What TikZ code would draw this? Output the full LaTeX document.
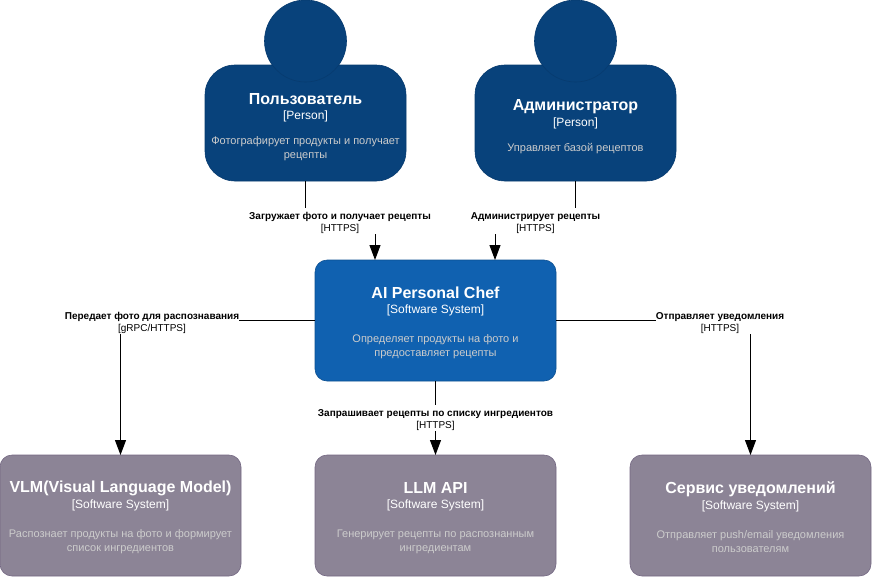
\documentclass[tikz,border=0pt]{standalone}
\usepackage{fontspec}
\usepackage{xcolor}
\usepackage{tikz}
\usetikzlibrary{arrows.meta,calc}
\setmainfont{Liberation Sans}
\definecolor{personfill}{HTML}{08427B}
\definecolor{personline}{HTML}{073B6F}
\definecolor{chieffill}{HTML}{1061B0}
\definecolor{chiefline}{HTML}{0D5091}
\definecolor{extfill}{HTML}{8C8496}
\definecolor{extline}{HTML}{736782}
\definecolor{desctext}{HTML}{CCCCCC}
\newcommand{\boxtext}[2]{\rule{0pt}{16pt}{\fontsize{16}{19}\selectfont\bfseries #1}\\[3pt]{\fontsize{12}{14}\selectfont [#2]}\\[17pt]}
\newcommand{\persontext}[2]{\rule{0pt}{19pt}{\fontsize{16}{19}\selectfont\bfseries #1}\\[3pt]{\fontsize{12}{14}\selectfont [#2]}\\[13pt]}
\newcommand{\descline}[1]{{\fontsize{11}{14.5}\selectfont\color{desctext}#1}}
\newcommand{\reltext}[2]{\rule{0pt}{11.5pt}\textbf{#1}\\{}[#2]}
\tikzset{
  boxbase/.style={draw,align=center,text=white,inner sep=0pt,outer sep=0pt,minimum width=241pt,minimum height=121pt,rounded corners=12pt,line width=0.6pt},
  chiefbox/.style={boxbase,fill=chieffill,draw=chiefline},
  extbox/.style={boxbase,fill=extfill,draw=extline},
  personbody/.style={boxbase,fill=personfill,draw=personline,minimum width=201pt,minimum height=116pt,rounded corners=30pt},
  personhead/.style={circle,fill=personfill,draw=personline,line width=0.6pt,minimum size=82pt,inner sep=0pt,outer sep=0pt},
  rel/.style={line width=1pt,black,-{Triangle[length=15pt,width=11pt]}},
  rellabel/.style={fill=white,align=center,inner sep=0pt,minimum height=24pt,font=\fontsize{10}{12}\selectfont},
}
\begin{document}
\begin{tikzpicture}[x=1pt,y=-1pt]
\useasboundingbox (0,0) rectangle (872,576);
% people
\node[personbody] (userbody) at (305.5,123) {\persontext{Пользователь}{Person}\descline{Фотографирует продукты и получает}\\[2pt]\descline{рецепты}};
\node[personhead] (userhead) at (305.5,41) {};
\node[personbody] (adminbody) at (575.5,123) {\persontext{Администратор}{Person}\descline{Управляет базой рецептов}};
\node[personhead] (adminhead) at (575.5,41) {};
% systems
\node[chiefbox] (chef) at (435.5,320.5) {\boxtext{AI Personal Chef}{Software System}\descline{Определяет продукты на фото и}\\[2pt]\descline{предоставляет рецепты}};
\node[extbox] (vlm) at (120.5,515.5) {\boxtext{VLM(Visual Language Model)}{Software System}\descline{Распознает продукты на фото и формирует}\\[2pt]\descline{список ингредиентов}};
\node[extbox] (llm) at (435.5,515.5) {\boxtext{LLM API}{Software System}\descline{Генерирует рецепты по распознанным}\\[2pt]\descline{ингредиентам}};
\node[extbox] (notify) at (750.5,515.5) {\boxtext{Сервис уведомлений}{Software System}\descline{Отправляет push/email уведомления}\\[2pt]\descline{пользователям}};
% connectors
\coordinate (userbend) at (340,221);
\coordinate (adminbend) at (535.5,221);
\coordinate (vlmbend) at (152,321);
\coordinate (notifybend) at (720,321);
\coordinate (llmbend) at (435.5,418);
\draw[rel] (userbody.south) |- (userbend) -| ([xshift=-60.5pt]chef.north);
\draw[rel] (adminbody.south) |- (adminbend) -| ([xshift=59.5pt]chef.north);
\draw[rel] (chef.west) -| (vlm.north);
\draw[rel] (chef.east) -| (notify.north);
\draw[rel] (chef.south) -- (llm.north);
% labels
\node[rellabel] (userlabel) at (userbend) {\reltext{Загружает фото и получает рецепты}{HTTPS}};
\node[rellabel] (adminlabel) at (adminbend) {\reltext{Администрирует рецепты}{HTTPS}};
\node[rellabel] (vlmlabel) at (vlmbend) {\reltext{Передает фото для распознавания}{gRPC/HTTPS}};
\node[rellabel] (notifylabel) at (notifybend) {\reltext{Отправляет уведомления}{HTTPS}};
\node[rellabel] (llmlabel) at (llmbend) {\reltext{Запрашивает рецепты по списку ингредиентов}{HTTPS}};
\end{tikzpicture}
\end{document}
